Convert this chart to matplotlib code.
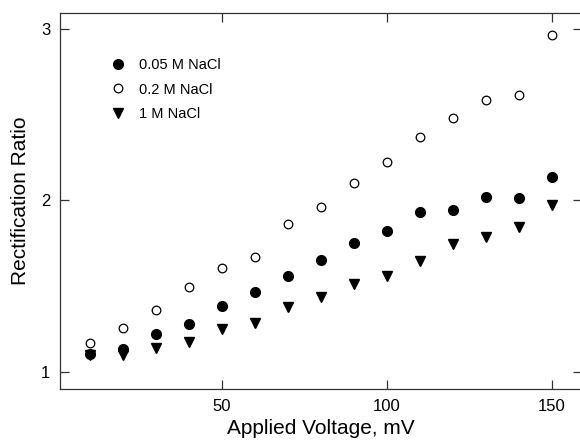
import numpy as np
import matplotlib.pyplot as plt

plt.rcParams['font.family'] = ['Liberation Sans', 'DejaVu Sans']

# applied voltage, mV
voltage = [10, 20, 30, 40, 50, 60, 70, 80, 90, 100, 110, 120, 130, 140, 150]

# rectification ratio for each concentration
ratio_005 = [1.105, 1.136, 1.223, 1.28, 1.383, 1.466, 1.558, 1.653, 1.752, 1.824,
             1.933, 1.945, 2.022, 2.016, 2.135]
ratio_02 = [1.17, 1.257, 1.36, 1.496, 1.608, 1.669, 1.863, 1.96, 2.10, 2.224,
            2.37, 2.48, 2.586, 2.615, 2.965]
ratio_1 = [1.10, 1.10, 1.138, 1.173, 1.25, 1.284, 1.377, 1.44, 1.511, 1.56,
           1.645, 1.745, 1.79, 1.847, 1.974]

labels = ['0.05 M NaCl', '0.2 M NaCl', '1 M NaCl']

fig = plt.figure(figsize=(5.8, 4.46), dpi=100)
ax = fig.add_axes([60 / 580, 57 / 446, 522 / 580, 376 / 446])

ax.plot(voltage, ratio_005, 'o', color='black', markersize=7, label=labels[0])
ax.plot(voltage, ratio_02, 'o', markerfacecolor='white', markeredgecolor='black',
        markeredgewidth=0.9, markersize=6.2, label=labels[1])
ax.plot(voltage, ratio_1, 'v', color='black', markersize=7, label=labels[2])

ax.set_xlim(0.9, 159.1)
ax.set_ylim(0.901, 3.093)
ax.set_xticks([50, 100, 150])
ax.set_yticks([1, 2, 3])

# ticks point inward on all four sides
ax.tick_params(direction='in', length=6.5, width=0.9, color='#333333',
               top=True, right=True, labelsize=12, pad=7)
for s in ax.spines.values():
    s.set_color('#333333')
    s.set_linewidth(0.9)
ax.spines['right'].set_visible(False)  # falls just outside the picture

ax.set_xlabel('Applied Voltage, mV', fontsize=15, labelpad=4)
ax.set_ylabel('Rectification Ratio', fontsize=15, labelpad=8)

ax.legend(loc='upper left', bbox_to_anchor=(0.075, 0.915), frameon=False,
          numpoints=1, handlelength=0.8, handletextpad=1.0,
          labelspacing=0.72, fontsize=10.5)

fig.savefig('out.png', dpi=100)
